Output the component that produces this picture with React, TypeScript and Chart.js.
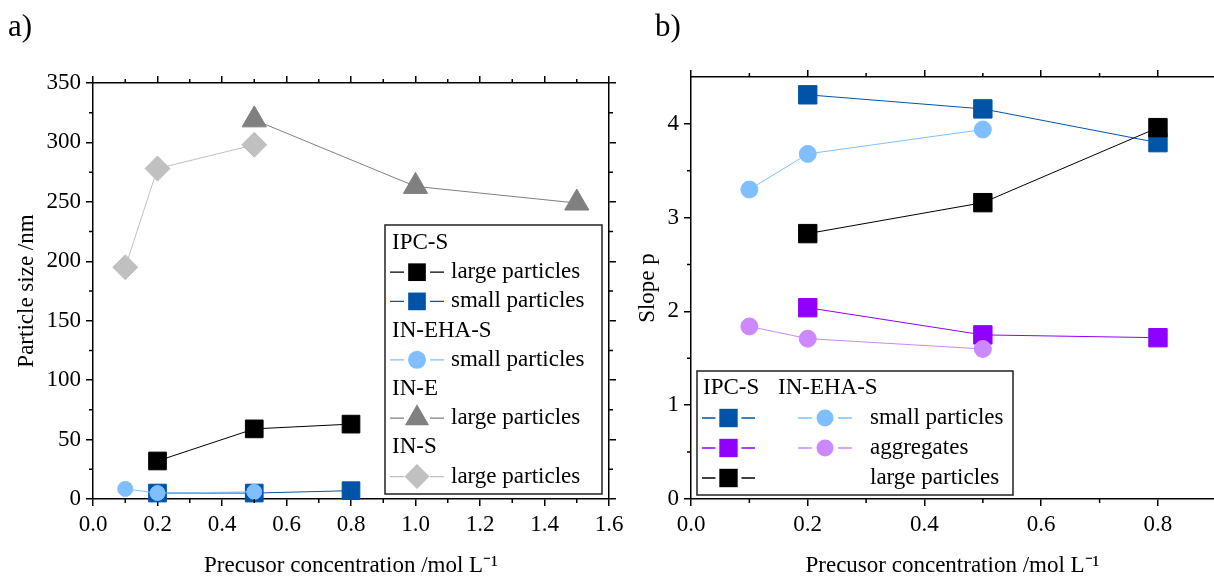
import React, { useEffect, useRef } from 'react';
import { Chart, registerables } from 'chart.js';

Chart.register(...registerables);

const SERIF = '"Liberation Serif", "Times New Roman", Times, serif';

// ---------------- Panel a) ----------------
const aXTicks = [0, 0.2, 0.4, 0.6, 0.8, 1.0, 1.2, 1.4, 1.6];
const aXMinor = [0.1, 0.3, 0.5, 0.7, 0.9, 1.1, 1.3, 1.5];
const aYTicks = [0, 50, 100, 150, 200, 250, 300, 350];
const aYMinor = [25, 75, 125, 175, 225, 275, 325];

const ipcLargeConc = [0.2, 0.5, 0.8];
const ipcLargeSize = [32, 59, 63];
const ipcSmallConc = [0.2, 0.5, 0.8];
const ipcSmallSize = [5, 5, 7];
const inEhaSmallConc = [0.1, 0.2, 0.5];
const inEhaSmallSize = [8.5, 5, 6];
const inELargeConc = [0.5, 1.0, 1.5];
const inELargeSize = [319, 263, 249];
const inSLargeConc = [0.1, 0.2, 0.5];
const inSLargeSize = [195, 278, 298];

// ---------------- Panel b) ----------------
const bXTicks = [0, 0.2, 0.4, 0.6, 0.8];
const bXMinor = [0.1, 0.3, 0.5, 0.7];
const bYTicks = [0, 1, 2, 3, 4];
const bYMinor = [0.5, 1.5, 2.5, 3.5];

const ipcConc = [0.2, 0.5, 0.8];
const ipcSmallSlope = [4.31, 4.16, 3.8];
const ipcAggSlope = [2.04, 1.75, 1.72];
const ipcLargeSlope = [2.83, 3.16, 3.96];
const inEhaConc = [0.1, 0.2, 0.5];
const inEhaSmallSlope = [3.3, 3.68, 3.94];
const inEhaAggSlope = [1.84, 1.71, 1.6];

// legend texts
const aLegendRows: [string, number | null][] = [
  ['IPC-S', null],
  ['large particles', 1],
  ['small particles', 2],
  ['IN-EHA-S', null],
  ['small particles', 0],
  ['IN-E', null],
  ['large particles', 3],
  ['IN-S', null],
  ['large particles', 4],
];
const bLegendHeaders = ['IPC-S', 'IN-EHA-S'];
const bLegendRows: [string, number | null, number | null][] = [
  ['small particles', 4, 1],
  ['aggregates', 3, 0],
  ['large particles', 2, null],
];

const BLACK = '#000000';
const BLUE = '#0054A8';
const LIGHT_BLUE = '#80BFFF';
const GRAY = '#808080';
const LIGHT_GRAY = '#C0C0C0';
const PURPLE = '#9000FF';
const LIGHT_PURPLE = '#CC88FF';

const FONT_SIZE = 23;

const pts = (xs: number[], ys: number[]) => xs.map((x, i) => ({ x, y: ys[i] }));

function series(label: string, data: any[], color: string, style: string, radius: number) {
  return {
    label,
    data,
    borderColor: color,
    backgroundColor: color,
    borderWidth: 1,
    pointStyle: style,
    pointRadius: radius,
    pointBorderWidth: 1,
    pointBorderColor: color,
    pointBackgroundColor: color,
    showLine: true,
    tension: 0,
    clip: false,
  };
}

function axis(
  pos: string,
  min: number,
  max: number,
  ticksArr: number[],
  size: number,
  showLabels: boolean,
  fmt: (v: number) => string,
  title?: { text: string; pad: number }
) {
  const horizontal = pos === 'top' || pos === 'bottom';
  return {
    type: 'linear',
    position: pos,
    min,
    max,
    afterBuildTicks: (s: any) => {
      s.ticks = ticksArr.map((v) => ({ value: v }));
    },
    afterFit: (s: any) => {
      if (horizontal) s.height = size;
      else s.width = size;
    },
    border: { display: true, color: '#000', width: 1.5 },
    grid: {
      drawOnChartArea: false,
      drawTicks: true,
      tickLength: 7,
      color: '#000',
      lineWidth: 1.5,
    },
    ticks: {
      display: showLabels,
      autoSkip: false,
      maxRotation: 0,
      color: '#000',
      padding: 5,
      font: { family: SERIF, size: FONT_SIZE },
      callback: (v: any) => fmt(Number(v)),
    },
    title: title
      ? {
          display: true,
          text: title.text,
          color: '#000',
          font: { family: SERIF, size: FONT_SIZE, lineHeight: 1 },
          padding: horizontal ? { top: 0, bottom: title.pad } : { top: title.pad, bottom: 0 },
        }
      : { display: false },
  };
}

function makeMinorTicks(xs: number[], ys: number[], top: boolean, right: boolean) {
  return {
    id: 'minorTicks',
    afterDraw(chart: any) {
      const { ctx, chartArea: a, scales } = chart;
      const len = 4;
      ctx.save();
      ctx.strokeStyle = '#000';
      ctx.lineWidth = 1.5;
      ctx.beginPath();
      xs.forEach((v) => {
        const p = scales.x.getPixelForValue(v);
        ctx.moveTo(p, a.bottom);
        ctx.lineTo(p, a.bottom + len);
        if (top) {
          ctx.moveTo(p, a.top);
          ctx.lineTo(p, a.top - len);
        }
      });
      ys.forEach((v) => {
        const p = scales.y.getPixelForValue(v);
        ctx.moveTo(a.left, p);
        ctx.lineTo(a.left - len, p);
        if (right) {
          ctx.moveTo(a.right, p);
          ctx.lineTo(a.right + len, p);
        }
      });
      ctx.stroke();
      ctx.restore();
    },
  };
}

function drawMarker(ctx: CanvasRenderingContext2D, style: string, x: number, y: number, r: number, color: string) {
  ctx.fillStyle = color;
  ctx.beginPath();
  if (style === 'rect') {
    const s = r * Math.SQRT1_2;
    ctx.rect(x - s, y - s, 2 * s, 2 * s);
  } else if (style === 'circle') {
    ctx.arc(x, y, r, 0, Math.PI * 2);
  } else if (style === 'triangle') {
    const a = (2 * Math.PI) / 3;
    ctx.moveTo(x, y - r);
    ctx.lineTo(x + Math.sin(a) * r, y - Math.cos(a) * r);
    ctx.lineTo(x - Math.sin(a) * r, y - Math.cos(a) * r);
  } else if (style === 'rectRot') {
    ctx.moveTo(x, y - r);
    ctx.lineTo(x + r, y);
    ctx.lineTo(x, y + r);
    ctx.lineTo(x - r, y);
  }
  ctx.closePath();
  ctx.fill();
}

function drawSample(ctx: CanvasRenderingContext2D, ds: any, x0: number, x1: number, y: number) {
  const mx = (x0 + x1) / 2;
  const gap = 13;
  ctx.save();
  ctx.strokeStyle = ds.borderColor;
  ctx.lineWidth = 1.3;
  ctx.beginPath();
  ctx.moveTo(x0, y);
  ctx.lineTo(mx - gap, y);
  ctx.moveTo(mx + gap, y);
  ctx.lineTo(x1, y);
  ctx.stroke();
  drawMarker(ctx, ds.pointStyle, mx, y, ds.legendRadius ?? ds.pointRadius, ds.backgroundColor);
  ctx.restore();
}

const legendA = {
  id: 'legendA',
  afterDraw(chart: any) {
    const { ctx, chartArea: a } = chart;
    const x0 = a.right - 224;
    const x1 = a.right - 7;
    const y0 = a.top + 142;
    const y1 = a.bottom - 5;
    ctx.save();
    ctx.fillStyle = '#fff';
    ctx.fillRect(x0, y0, x1 - x0, y1 - y0);
    ctx.strokeStyle = '#222';
    ctx.lineWidth = 1.5;
    ctx.strokeRect(x0, y0, x1 - x0, y1 - y0);
    ctx.font = `${FONT_SIZE}px ${SERIF}`;
    ctx.textBaseline = 'middle';
    ctx.fillStyle = '#000';
    aLegendRows.forEach(([text, idx], i) => {
      const y = y0 + 18 + i * 29.2;
      if (idx === null) {
        ctx.fillStyle = '#000';
        ctx.fillText(text, x0 + 7, y);
      } else {
        drawSample(ctx, chart.data.datasets[idx], x0 + 5, x0 + 59, y);
        ctx.fillStyle = '#000';
        ctx.fillText(text, x0 + 66, y);
      }
    });
    ctx.restore();
  },
};

const legendB = {
  id: 'legendB',
  afterDraw(chart: any) {
    const { ctx, chartArea: a } = chart;
    const x0 = a.left + 6;
    const x1 = a.left + 322;
    const y0 = a.top + 294;
    const y1 = a.bottom - 4;
    ctx.save();
    ctx.fillStyle = '#fff';
    ctx.fillRect(x0, y0, x1 - x0, y1 - y0);
    ctx.strokeStyle = '#222';
    ctx.lineWidth = 1.5;
    ctx.strokeRect(x0, y0, x1 - x0, y1 - y0);
    ctx.font = `${FONT_SIZE}px ${SERIF}`;
    ctx.textBaseline = 'middle';
    ctx.fillStyle = '#000';
    ctx.fillText(bLegendHeaders[0], x0 + 6, y0 + 17);
    ctx.fillText(bLegendHeaders[1], x0 + 81, y0 + 17);
    bLegendRows.forEach(([text, i1, i2], i) => {
      const y = y0 + 47 + i * 30;
      if (i1 !== null) drawSample(ctx, chart.data.datasets[i1], x0 + 5, x0 + 58, y);
      if (i2 !== null) drawSample(ctx, chart.data.datasets[i2], x0 + 101, x0 + 155, y);
      ctx.fillStyle = '#000';
      ctx.fillText(text, x0 + 173, y);
    });
    ctx.restore();
  },
};

const fmt1 = (v: number) => v.toFixed(1);
const fmt0 = (v: number) => String(Math.round(v));
const X_TITLE = 'Precusor concentration /mol L\u207B\u00B9';

function configA(): any {
  const dsEha = series('small particles', pts(inEhaSmallConc, inEhaSmallSize), LIGHT_BLUE, 'circle', 7.5);
  const dsLarge = series('large particles', pts(ipcLargeConc, ipcLargeSize), BLACK, 'rect', 12.5);
  const dsSmall = series('small particles', pts(ipcSmallConc, ipcSmallSize), BLUE, 'rect', 12.5);
  const dsInE = series('large particles', pts(inELargeConc, inELargeSize), GRAY, 'triangle', 14);
  const dsInS = series('large particles', pts(inSLargeConc, inSLargeSize), LIGHT_GRAY, 'rectRot', 12.5);
  (dsEha as any).legendRadius = 9;
  (dsInS as any).legendRadius = 12.5;
  return {
    type: 'scatter',
    data: { datasets: [dsEha, dsLarge, dsSmall, dsInE, dsInS] },
    options: {
      animation: false,
      responsive: true,
      maintainAspectRatio: false,
      events: [],
      layout: { padding: 0, autoPadding: false },
      plugins: { legend: { display: false }, tooltip: { enabled: false } },
      scales: {
        x: axis('bottom', 0, 1.6, aXTicks, 78, true, fmt1, { text: X_TITLE, pad: 0 }),
        x2: axis('top', 0, 1.6, aXTicks, 83, false, fmt1),
        y: axis('left', 0, 350, aYTicks, 93, true, fmt0, { text: 'Particle size /nm', pad: 15.5 }),
        y2: axis('right', 0, 350, aYTicks, 31, false, fmt0),
      },
    },
    plugins: [makeMinorTicks(aXMinor, aYMinor, true, true), legendA],
  };
}

function configB(): any {
  const dsEhaAgg = series('aggregates', pts(inEhaConc, inEhaAggSlope), LIGHT_PURPLE, 'circle', 8.5);
  const dsEhaSmall = series('small particles', pts(inEhaConc, inEhaSmallSlope), LIGHT_BLUE, 'circle', 8.5);
  const dsLarge = series('large particles', pts(ipcConc, ipcLargeSlope), BLACK, 'rect', 13);
  const dsAgg = series('aggregates', pts(ipcConc, ipcAggSlope), PURPLE, 'rect', 13);
  const dsSmall = series('small particles', pts(ipcConc, ipcSmallSlope), BLUE, 'rect', 13);
  return {
    type: 'scatter',
    data: { datasets: [dsEhaAgg, dsEhaSmall, dsLarge, dsAgg, dsSmall] },
    options: {
      animation: false,
      responsive: true,
      maintainAspectRatio: false,
      events: [],
      layout: { padding: 0, autoPadding: false },
      plugins: { legend: { display: false }, tooltip: { enabled: false } },
      scales: {
        x: axis('bottom', 0, 0.896, bXTicks, 78, true, fmt1, { text: X_TITLE, pad: 0 }),
        x2: axis('top', 0, 0.896, bXTicks, 77, false, fmt1),
        y: axis('left', 0, 4.5, bYTicks, 71, true, fmt0, { text: 'Slope p', pad: 16.5 }),
      },
    },
    plugins: [makeMinorTicks(bXMinor, bYMinor, true, false), legendB],
  };
}

export default function App() {
  const aRef = useRef<HTMLCanvasElement>(null);
  const bRef = useRef<HTMLCanvasElement>(null);

  useEffect(() => {
    const ca = new Chart(aRef.current as HTMLCanvasElement, configA());
    const cb = new Chart(bRef.current as HTMLCanvasElement, configB());
    return () => {
      ca.destroy();
      cb.destroy();
    };
  }, []);

  const panelLabel: React.CSSProperties = {
    position: 'absolute',
    top: 10,
    fontFamily: SERIF,
    fontSize: 31,
    lineHeight: '31px',
    color: '#000',
    zIndex: 2,
  };

  return (
    <div style={{ position: 'absolute', left: 0, top: 0, width: 1214, height: 577, background: '#fff', overflow: 'hidden' }}>
      <div style={{ position: 'absolute', left: 0, top: 0, width: 640, height: 577 }}>
        <canvas ref={aRef} />
      </div>
      <div style={{ position: 'absolute', left: 620, top: 0, width: 594, height: 577 }}>
        <canvas ref={bRef} />
      </div>
      <div style={{ ...panelLabel, left: 8 }}>a)</div>
      <div style={{ ...panelLabel, left: 655 }}>b)</div>
    </div>
  );
}
